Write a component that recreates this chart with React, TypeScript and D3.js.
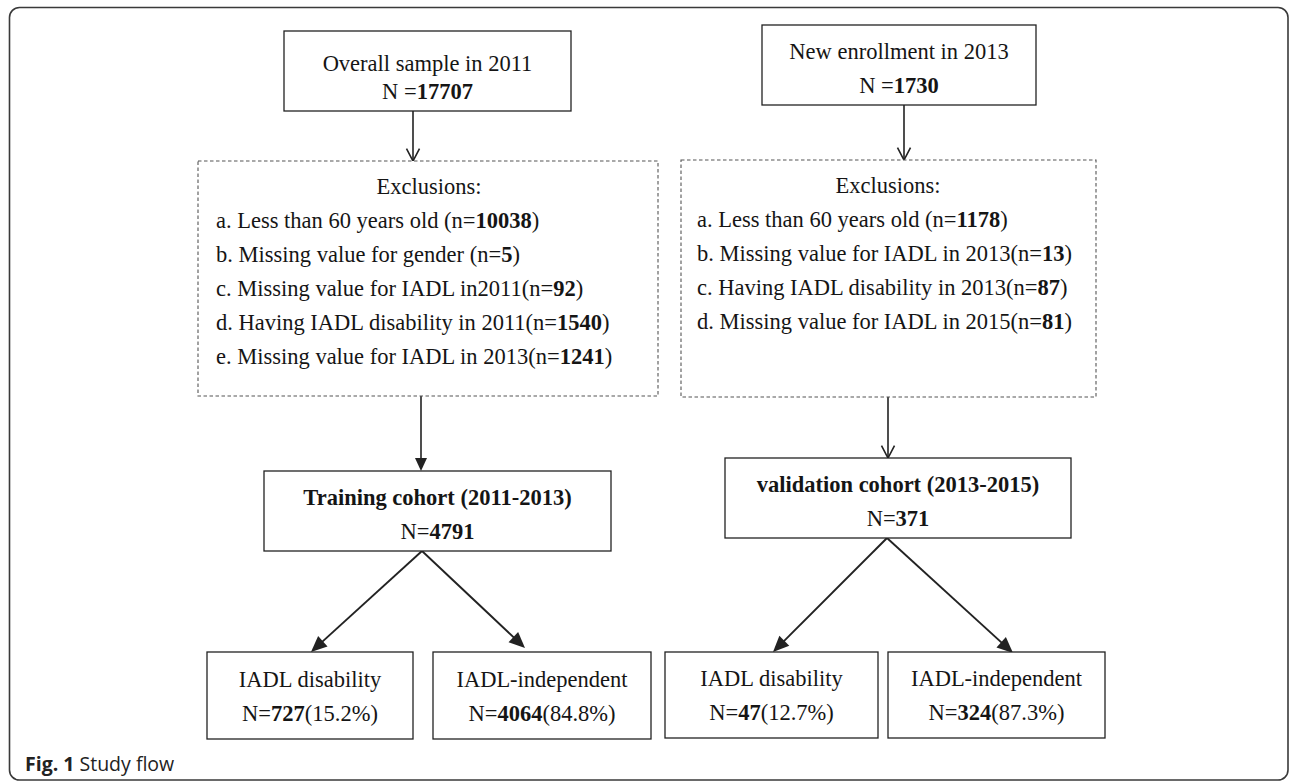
import React from "react";
import * as d3 from "d3";

// ---------- data ----------
const sourceLabels = ["Overall sample in 2011", "New enrollment in 2013"];
const sourceCounts = [17707, 1730];

const trainingExclusionText = [
  "a. Less than 60 years old (n=",
  "b. Missing value for gender (n=",
  "c. Missing value for IADL in2011(n=",
  "d. Having IADL disability in 2011(n=",
  "e. Missing value for IADL in 2013(n=",
];
const trainingExclusionCounts = [10038, 5, 92, 1540, 1241];

const validationExclusionText = [
  "a. Less than 60 years old (n=",
  "b. Missing value for IADL in 2013(n=",
  "c. Having IADL disability in 2013(n=",
  "d. Missing value for IADL in 2015(n=",
];
const validationExclusionCounts = [1178, 13, 87, 81];

const cohortLabels = ["Training cohort", "validation cohort"];
const cohortPeriods = ["2011-2013", "2013-2015"];
const cohortCounts = [4791, 371];

const outcomeLabels = ["IADL disability", "IADL-independent"];
const trainingOutcomeCounts = [727, 4064];
const trainingOutcomePct = ["15.2", "84.8"];
const validationOutcomeCounts = [47, 324];
const validationOutcomePct = ["12.7", "87.3"];

// ---------- layout ----------
const FONT = "'Liberation Serif', 'Times New Roman', serif";
const FS = 22.5;
const INK = "#151515";
const LINE = "#222";

type Box = { x0: number; x1: number; y0: number; y1: number };

const L = {
  source: [
    { x0: 284, x1: 571, y0: 31, y1: 111, b1: 71, b2: 99 },
    { x0: 762, x1: 1036, y0: 25, y1: 105, b1: 59, b2: 93 },
  ],
  excl: [
    { x0: 198, x1: 658, y0: 161, y1: 396, head: 194, cx: 429, tx: 216, first: 228 },
    { x0: 681, x1: 1096, y0: 160, y1: 397, head: 193, cx: 888, tx: 697, first: 227 },
  ],
  cohort: [
    { x0: 264, x1: 611, y0: 471, y1: 551, b1: 505, b2: 539 },
    { x0: 725, x1: 1071, y0: 458, y1: 538, b1: 492, b2: 526 },
  ],
  outcome: [
    [
      { x0: 207, x1: 413, y0: 652, y1: 739, b1: 687, b2: 721 },
      { x0: 433, x1: 651, y0: 652, y1: 739, b1: 687, b2: 721 },
    ],
    [
      { x0: 665, x1: 878, y0: 652, y1: 738, b1: 686, b2: 720 },
      { x0: 888, x1: 1105, y0: 652, y1: 738, b1: 686, b2: 720 },
    ],
  ],
  arrowsOpen: [
    [413, 111, 413, 161],
    [904, 105, 904, 160],
    [888, 397, 888, 458],
  ],
  arrowsSolid: [
    [421, 396, 421, 471],
  ],
  diagonals: [
    [422, 551, 311, 652],
    [422, 551, 525, 648],
    [887, 538, 773, 652],
    [887, 538, 1013, 653],
  ],
};

const rowSpacing = 34;

function openHead(x1: number, y1: number, x2: number, y2: number) {
  const a = Math.atan2(y2 - y1, x2 - x1);
  const len = 14;
  const spread = Math.PI / 6.5;
  const p = d3.path();
  p.moveTo(x2 - len * Math.cos(a - spread), y2 - len * Math.sin(a - spread));
  p.lineTo(x2, y2);
  p.lineTo(x2 - len * Math.cos(a + spread), y2 - len * Math.sin(a + spread));
  return p.toString();
}

function solidHead(x1: number, y1: number, x2: number, y2: number, len = 14, half = 6.5) {
  const a = Math.atan2(y2 - y1, x2 - x1);
  const bx = x2 - len * Math.cos(a);
  const by = y2 - len * Math.sin(a);
  const nx = -Math.sin(a);
  const ny = Math.cos(a);
  const p = d3.path();
  p.moveTo(x2, y2);
  p.lineTo(bx + nx * half, by + ny * half);
  p.lineTo(bx - nx * half, by - ny * half);
  p.closePath();
  return p.toString();
}

function Rect({ b, dashed }: { b: Box; dashed?: boolean }) {
  return (
    <rect
      x={b.x0}
      y={b.y0}
      width={b.x1 - b.x0}
      height={b.y1 - b.y0}
      fill="#fff"
      stroke={dashed ? "#555" : LINE}
      strokeWidth={dashed ? 1.1 : 1.3}
      strokeDasharray={dashed ? "3.5 2.5" : undefined}
    />
  );
}

export default function App() {
  const exclData = [
    { text: trainingExclusionText, counts: trainingExclusionCounts },
    { text: validationExclusionText, counts: validationExclusionCounts },
  ];
  const outcomeData = [
    { counts: trainingOutcomeCounts, pct: trainingOutcomePct },
    { counts: validationOutcomeCounts, pct: validationOutcomePct },
  ];

  return (
    <svg
      width={1290}
      height={782}
      viewBox="0 0 1290 782"
      style={{ position: "absolute", left: 0, top: 0, background: "#fff" }}
      fontFamily={FONT}
      fontSize={FS}
      fill={INK}
    >
      <rect x={0} y={0} width={1290} height={782} fill="#fff" />
      {/* outer frame */}
      <rect
        x={9.5}
        y={7.5}
        width={1278.5}
        height={772.5}
        rx={10}
        ry={10}
        fill="none"
        stroke="#3a3a3a"
        strokeWidth={1.6}
      />

      {/* connectors */}
      {L.arrowsOpen.map(([x1, y1, x2, y2], i) => (
        <g key={"ao" + i} stroke={LINE} strokeWidth={1.6} fill="none">
          <line x1={x1} y1={y1} x2={x2} y2={y2} />
          <path d={openHead(x1, y1, x2, y2)} />
        </g>
      ))}
      {L.arrowsSolid.map(([x1, y1, x2, y2], i) => (
        <g key={"as" + i}>
          <line x1={x1} y1={y1} x2={x2 - 0} y2={y2 - 8} stroke={LINE} strokeWidth={1.6} />
          <path d={solidHead(x1, y1, x2, y2, 13, 6)} fill={LINE} />
        </g>
      ))}
      {L.diagonals.map(([x1, y1, x2, y2], i) => {
        const a = Math.atan2(y2 - y1, x2 - x1);
        return (
          <g key={"dg" + i}>
            <line
              x1={x1}
              y1={y1}
              x2={x2 - 8 * Math.cos(a)}
              y2={y2 - 8 * Math.sin(a)}
              stroke={LINE}
              strokeWidth={1.9}
            />
            <path d={solidHead(x1, y1, x2, y2, 16, 7)} fill={LINE} />
          </g>
        );
      })}

      {/* source boxes */}
      {L.source.map((b, i) => (
        <g key={"src" + i}>
          <Rect b={b} />
          <text x={(b.x0 + b.x1) / 2} y={b.b1} textAnchor="middle">
            {sourceLabels[i]}
          </text>
          <text x={(b.x0 + b.x1) / 2} y={b.b2} textAnchor="middle">
            N =<tspan fontWeight="bold">{sourceCounts[i]}</tspan>
          </text>
        </g>
      ))}

      {/* exclusion boxes */}
      {L.excl.map((b, i) => {
        const d = exclData[i];
        const y = d3
          .scaleLinear()
          .domain([0, 1])
          .range([b.first, b.first + rowSpacing]);
        return (
          <g key={"ex" + i}>
            <Rect b={b} dashed />
            <text x={b.cx} y={b.head} textAnchor="middle">
              Exclusions:
            </text>
            {d.text.map((t, j) => (
              <text key={j} x={b.tx} y={y(j)}>
                {t}
                <tspan fontWeight="bold">{d.counts[j]}</tspan>)
              </text>
            ))}
          </g>
        );
      })}

      {/* cohort boxes */}
      {L.cohort.map((b, i) => (
        <g key={"co" + i}>
          <Rect b={b} />
          <text x={(b.x0 + b.x1) / 2} y={b.b1} textAnchor="middle" fontWeight="bold">
            {cohortLabels[i]} ({cohortPeriods[i]})
          </text>
          <text x={(b.x0 + b.x1) / 2} y={b.b2} textAnchor="middle">
            N=<tspan fontWeight="bold">{cohortCounts[i]}</tspan>
          </text>
        </g>
      ))}

      {/* outcome boxes */}
      {L.outcome.map((pair, i) =>
        pair.map((b, j) => (
          <g key={"oc" + i + j}>
            <Rect b={b} />
            <text x={(b.x0 + b.x1) / 2} y={b.b1} textAnchor="middle">
              {outcomeLabels[j]}
            </text>
            <text x={(b.x0 + b.x1) / 2} y={b.b2} textAnchor="middle">
              N=<tspan fontWeight="bold">{outcomeData[i].counts[j]}</tspan>({outcomeData[i].pct[j]}%)
            </text>
          </g>
        ))
      )}

      {/* caption */}
      <text x={25} y={771} fontFamily="'Open Sans', 'Noto Sans', sans-serif" fontSize={19.5} fill="#222">
        <tspan fontWeight="bold">Fig. 1</tspan> Study flow
      </text>
    </svg>
  );
}
